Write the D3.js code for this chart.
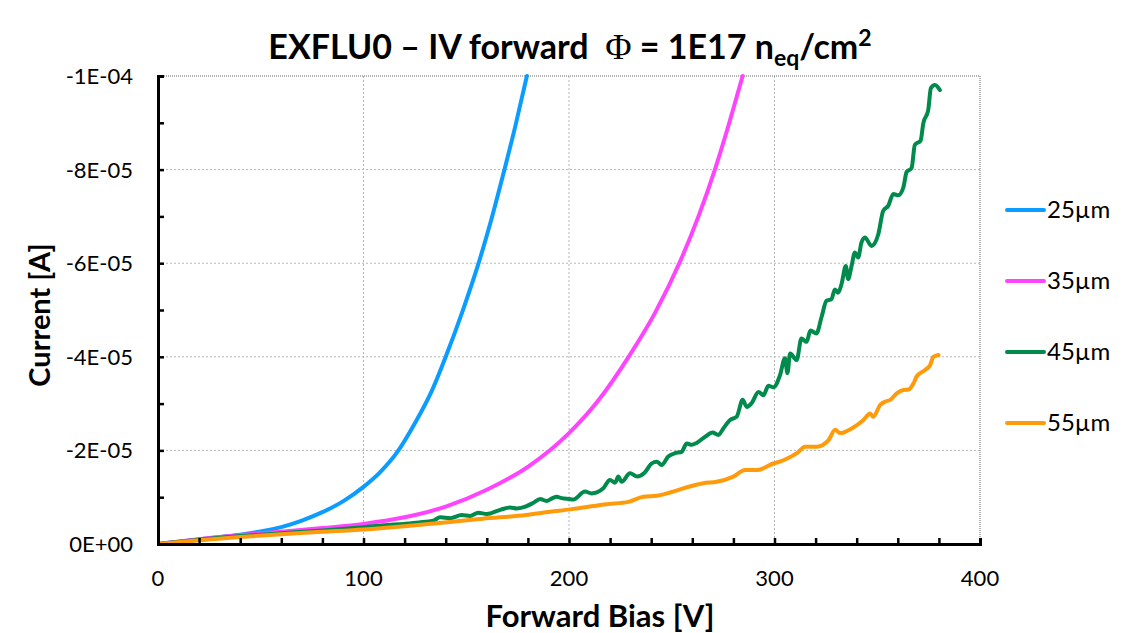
<!DOCTYPE html>
<html>
<head>
<meta charset="utf-8">
<script src="https://cdn.jsdelivr.net/npm/d3@7"></script>
<style>
  html, body { margin: 0; padding: 0; background: #fff; }
  svg { display: block; font-family: Lato, "Open Sans", sans-serif; }
</style>
</head>
<body>
<svg id="chart" width="1140" height="633"></svg>
<script>
// Forward IV curves, current in µA (negative = forward current), bias in V
const v25 = [0, 10, 20, 30, 40, 50, 60, 70, 80, 90, 100, 108, 117, 125, 133, 140, 148, 156, 162, 168, 174, 179.5];
const i25 = [0, -0.5, -1.0, -1.5, -2.0, -2.7, -3.6, -5.0, -6.8, -9.1, -12.2, -15.3, -20.0, -25.8, -32.5, -40, -49.5, -60, -69, -79, -89.5, -100];

const v35 = [0, 20, 40, 60, 80, 100, 120, 140, 160, 180, 200, 215, 229, 242, 254, 263, 271, 278, 284.5];
const i35 = [0, -1.0, -1.9, -2.6, -3.4, -4.3, -5.7, -8.0, -11.6, -16.5, -23.7, -31.1, -40, -49.5, -60.3, -70, -80, -90, -100];

const v45 = [0, 20, 40, 60, 80, 100, 110, 119.5, 127, 134, 137.3, 142.2, 147.8, 151.9, 155.9, 160, 166.5, 171.3, 174.6, 179.4,
  182.7, 186, 189, 192, 194, 196.4, 200, 202, 207.8, 211, 216.7, 219.9, 222.4, 224, 225.6, 229.7, 233.2, 236.5, 240.2, 242.7,
  245.1, 248.3, 251.6, 254.8, 257.3, 259.7, 262.1, 266.2, 269.9, 272.7, 275.1, 278.4, 281.6, 284.5, 286.5, 288.9, 292.2, 294.6,
  297, 299.5, 302.7, 305.1, 306.3, 307.6, 310.8, 313.1, 315.6, 317.5, 320.4, 322.9, 325.3, 327.7, 329.4, 331, 332.6, 334.7,
  335.8, 337.5, 339.1, 340.7, 342.3, 344, 347.2, 350.5, 352.9, 355.4, 357.8, 360.2, 362.7, 364.3, 366.7, 368.3, 371.1, 372.4,
  374.8, 376.1, 378.1, 380.5];
const i45 = [0, -0.9, -1.7, -2.3, -2.9, -3.6, -4.0, -4.3, -4.6, -5.0, -5.7, -5.5, -6.2, -6.0, -6.7, -6.4, -7.3, -7.8, -7.6, -8.1,
  -8.8, -9.6, -9.2, -9.8, -10.1, -9.8, -9.6, -9.5, -11.2, -10.8, -11.9, -13.7, -13.1, -14.4, -13.3, -15.1, -14.4, -15.1, -17.2, -17.6,
  -16.9, -18.7, -19.4, -19.7, -21.5, -21.2, -21.6, -22.9, -23.8, -23.3, -24.7, -26.5, -27.2, -30.8, -29.3, -30.1, -32.5, -31.8,
  -33.8, -33.5, -36.1, -39.7, -36.5, -40.7, -39.3, -43.9, -43.2, -45.6, -45.0, -48.5, -52.0, -52.3, -54.4, -53.7, -55.5, -59.4,
  -56.6, -59.4, -62.3, -61.2, -64.4, -65.5, -63.7, -66.2, -71.2, -72.3, -74.8, -74.5, -76.2, -79.5, -80.3, -85.3, -86.2, -89.9,
  -92.7, -97.4, -98.1, -97.0];

const v55 = [0, 20, 40, 60, 80, 100, 120, 142, 158, 179, 190.8, 200.5, 207, 218.3, 228.9, 236.2, 242.7, 249.2, 255.7, 265.4,
  271.9, 280, 285.7, 291.4, 299.5, 304.4, 310.9, 314.9, 320.6, 326.3, 329.5, 331.9, 337.6, 343.3, 346.5, 348.1, 351.4, 353.8,
  356.3, 359.5, 362.7, 365.2, 367.6, 369.2, 373.3, 375.7, 377.3, 379.8];
const i55 = [0, -0.8, -1.5, -2.1, -2.6, -3.1, -3.8, -4.7, -5.4, -6.2, -6.9, -7.4, -7.8, -8.5, -9.0, -10.1, -10.3, -11.0, -11.9, -13.0,
  -13.3, -14.4, -15.8, -15.8, -17.2, -17.9, -19.4, -20.8, -20.8, -22.2, -24.4, -23.7, -24.7, -26.5, -27.9, -27.2, -29.7, -30.4,
  -30.8, -32.2, -32.9, -33.0, -34.3, -35.8, -37.2, -38.2, -40.0, -40.4];

const seriesNames = ["25µm", "35µm", "45µm", "55µm"];
const seriesColors = ["#0a9cff", "#ff44ff", "#008a4c", "#ff9a0a"];
const seriesV = [v25, v35, v45, v55];
const seriesI = [i25, i35, i45, i55];

const xTicks = [0, 100, 200, 300, 400];
const yTicks = [0, -2e-5, -4e-5, -6e-5, -8e-5, -1e-4];
const yTickLabels = ["0E+00", "-2E-05", "-4E-05", "-6E-05", "-8E-05", "-1E-04"];

const svg = d3.select("#chart");
const plot = { left: 158, right: 980, top: 76, bottom: 544 };

const x = d3.scaleLinear().domain([0, 400]).range([plot.left, plot.right]);
const y = d3.scaleLinear().domain([0, -1e-4]).range([plot.bottom, plot.top]);

// grid
const grid = svg.append("g");
grid.selectAll("line.gx").data(xTicks.slice(1, -1)).join("line")
  .attr("x1", d => x(d)).attr("x2", d => x(d))
  .attr("y1", plot.top).attr("y2", plot.bottom)
  .attr("stroke", "#b5b5b5").attr("stroke-width", 1).attr("stroke-dasharray", "2,2");
grid.selectAll("line.gy").data(yTicks.slice(1, -1)).join("line")
  .attr("x1", plot.left).attr("x2", plot.right)
  .attr("y1", d => y(d)).attr("y2", d => y(d))
  .attr("stroke", "#b5b5b5").attr("stroke-width", 1).attr("stroke-dasharray", "2,2");
// top and right frame
grid.append("line").attr("x1", plot.left).attr("x2", plot.right).attr("y1", plot.top).attr("y2", plot.top)
  .attr("stroke", "#9a9a9a").attr("stroke-width", 1.5).attr("stroke-dasharray", "1,1");
grid.append("line").attr("x1", plot.right).attr("x2", plot.right).attr("y1", plot.top).attr("y2", plot.bottom)
  .attr("stroke", "#9a9a9a").attr("stroke-width", 1.5).attr("stroke-dasharray", "1,1");

// curves
svg.append("clipPath").attr("id", "clip").append("rect")
  .attr("x", plot.left).attr("y", plot.top - 3).attr("width", plot.right - plot.left + 3).attr("height", plot.bottom - plot.top + 3);
const line = d3.line().x(d => x(d[0])).y(d => y(d[1] * 1e-6)).curve(d3.curveMonotoneX);
const curves = svg.append("g").attr("clip-path", "url(#clip)");
seriesNames.forEach((name, k) => {
  const pts = seriesV[k].map((v, j) => [v, seriesI[k][j]]);
  curves.append("path").datum(pts)
    .attr("d", line).attr("fill", "none")
    .attr("stroke", seriesColors[k]).attr("stroke-width", 4)
    .attr("stroke-linejoin", "round").attr("stroke-linecap", "round");
});

// axes
const xAxis = d3.axisBottom(x).tickValues(d3.range(0, 401, 20)).tickSize(-6).tickFormat("");
const yAxis = d3.axisLeft(y).tickValues(d3.range(0, 11).map(k => -k * 1e-5)).tickSize(-6).tickFormat("");
const gx = svg.append("g").attr("transform", `translate(0,${plot.bottom})`).call(xAxis);
const gy = svg.append("g").attr("transform", `translate(${plot.left},0)`).call(yAxis);
[gx, gy].forEach(g => {
  g.select(".domain").attr("stroke", "#000").attr("stroke-width", 3);
  g.selectAll(".tick line").attr("stroke", "#000").attr("stroke-width", 2.5);
});

// tick labels
svg.append("g").selectAll("text").data(xTicks).join("text")
  .attr("x", d => x(d)).attr("y", 586)
  .attr("text-anchor", "middle").attr("font-size", 22).attr("fill", "#000")
  .text(d => d);
svg.append("g").selectAll("text").data(yTicks).join("text")
  .attr("x", 133).attr("y", d => y(d) + 8)
  .attr("text-anchor", "end").attr("font-size", 22).attr("fill", "#000")
  .text((d, i) => yTickLabels[i]);

// axis titles
svg.append("text").attr("x", 600).attr("y", 627).attr("text-anchor", "middle")
  .attr("font-size", 31).attr("font-weight", "bold").text("Forward Bias [V]");
svg.append("text").attr("transform", "translate(50,315) rotate(-90)").attr("text-anchor", "middle")
  .attr("font-size", 29).attr("font-weight", "bold").text("Current [A]");

// title
const title = svg.append("text").attr("x", 570).attr("y", 59).attr("text-anchor", "middle")
  .attr("font-size", 34).attr("font-weight", "bold").attr("xml:space", "preserve");
title.append("tspan").text("EXFLU0 – IV forward\u00a0\u00a0");
title.append("tspan").attr("font-family", "'Liberation Serif', serif").attr("font-weight", "normal").attr("font-size", 36).text("Φ");
title.append("tspan").text(" = 1E17 n");
title.append("tspan").attr("font-size", 23).attr("dy", 7).text("eq");
title.append("tspan").attr("dy", -7).text("/cm");
title.append("tspan").attr("font-size", 23).attr("dy", -13).text("2");

// legend
const legend = svg.append("g");
seriesNames.forEach((name, k) => {
  const ly = 210 + k * 71;
  legend.append("line").attr("x1", 1007).attr("x2", 1044).attr("y1", ly).attr("y2", ly)
    .attr("stroke", seriesColors[k]).attr("stroke-width", 4).attr("stroke-linecap", "round");
  legend.append("text").attr("x", 1047).attr("y", ly + 8).attr("font-size", 24).text(name);
});
</script>
</body>
</html>
